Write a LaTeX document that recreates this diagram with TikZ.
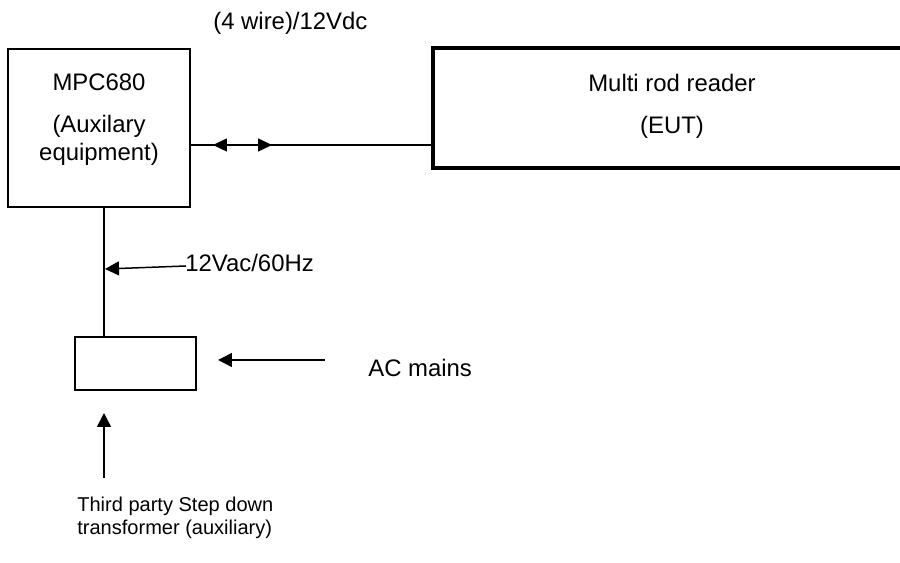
\documentclass[tikz,border=0pt]{standalone}
\usepackage{fontspec}
\setmainfont{Liberation Sans}
\usepackage{tikz}
\usetikzlibrary{positioning, arrows.meta, calc}

\begin{document}
\begin{tikzpicture}[
  x=0.02cm, y=-0.02cm,
  unit/.style={
    draw,
    line width=1pt,
    inner sep=0pt
  },
  eutbox/.style={unit, line width=1.9pt},
  wire/.style={line width=0.85pt},
  flow/.style={-{Triangle[length=2.8mm, width=2.8mm]}, line width=0.85pt},
  dualflow/.style={{Triangle[length=2.8mm, width=2.6mm]}-{Triangle[length=2.8mm, width=2.6mm]}, line width=0.85pt},
  bigtext/.style={font=\fontsize{13.6}{16}\selectfont, inner sep=0pt},
  smalltext/.style={font=\fontsize{11.4}{13.5}\selectfont, inner sep=0pt}
]
\useasboundingbox (0,0) rectangle (900,563);
\clip (0,0) rectangle (900,563);

% boxes
\node[unit, minimum width=3.64cm, minimum height=3.16cm] (mpc) at (99,128) {};
\node[eutbox, minimum width=10cm, minimum height=2.4cm] (eut) at (683,108) {};
\node[unit, minimum width=2.42cm, minimum height=1.06cm] (trafo) at (135.5,363.5) {};

% box texts
\node[bigtext, anchor=base] (mpcname) at (99,91) {MPC680};
\node[bigtext, anchor=base] (mpcrole) at (99,133) {(Auxilary};
\node[bigtext, anchor=base] (mpcrole2) at (99,161) {equipment)};
\node[bigtext, anchor=base] (eutname) at (672,92) {Multi rod reader};
\node[bigtext, anchor=base] (eutrole) at (672,134) {(EUT)};

% labels
\node[bigtext, anchor=base west] (dclabel) at (213,29.5) {(4 wire)/12Vdc};
\node[bigtext, anchor=base west] (vac) at (185,272) {12Vac/60Hz};
\node[bigtext, anchor=base west] (mains) at (368,377) {AC mains};
\node[smalltext, anchor=base west, align=left] (trafolabel) at (77,535)
  {Third party Step down\\transformer (auxiliary)};

% connectors
\draw[wire] (mpc.east |- 0,145) -- (eut.west |- 0,145);
\coordinate (dcl) at (213,145);
\coordinate (dcr) at (272,145);
\draw[dualflow] (dcl) -- (dcr);

\draw[wire] (mpc.south -| 104,0) -- (trafo.north -| 104,0);
\coordinate (vactip) at (105,269);
\draw[flow] ($(vac.base west)+(1,-6)$) -- (vactip);

\coordinate (mainstail) at (325,360);
\coordinate (mainstip) at (218,360);
\draw[flow] (mainstail) -- (mainstip);

\coordinate (uptail) at (104,478);
\coordinate (uptip) at (104,413);
\draw[flow] (uptail) -- (uptip);
\end{tikzpicture}
\end{document}
